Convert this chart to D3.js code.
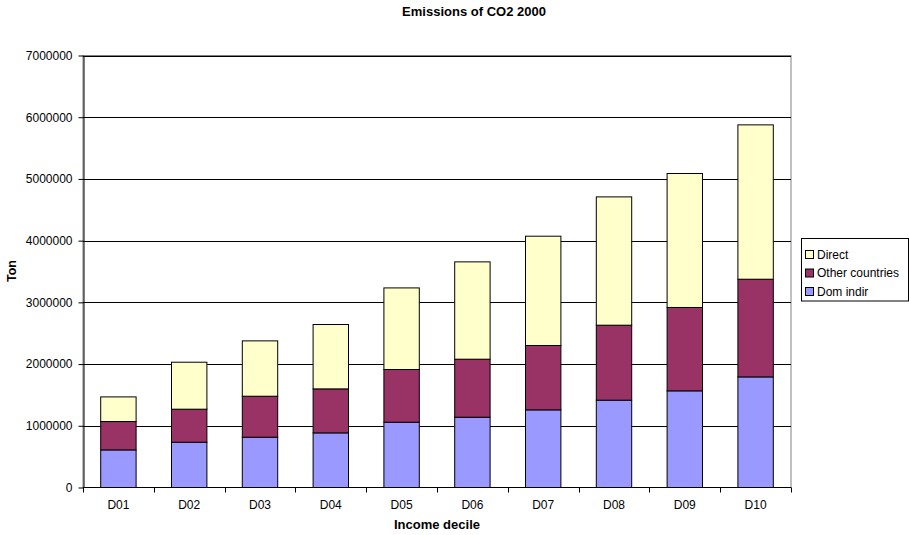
<!DOCTYPE html>
<html>
<head>
<meta charset="utf-8">
<script src="https://cdn.jsdelivr.net/npm/d3@7"></script>
<style>
  html, body { margin: 0; padding: 0; background: #fff; }
  svg { display: block; font-family: "Liberation Sans", Arial, sans-serif; }
</style>
</head>
<body>
<svg id="chart" width="909" height="535"></svg>
<script>
// Income deciles and CO2 emissions (tonnes) by source, year 2000
const deciles = ["D01", "D02", "D03", "D04", "D05", "D06", "D07", "D08", "D09", "D10"];
const domIndir = [609000, 734000, 815000, 885000, 1058000, 1139000, 1258000, 1415000, 1566000, 1792000];
const otherCountries = [460000, 535000, 664000, 713000, 854000, 940000, 1043000, 1215000, 1351000, 1583000];
const direct = [399000, 761000, 897000, 1043000, 1322000, 1577000, 1771000, 2079000, 2171000, 2501000];
const yTicks = [0, 1000000, 2000000, 3000000, 4000000, 5000000, 6000000, 7000000];

const seriesNames = ["Dom indir", "Other countries", "Direct"];
const seriesColors = { "Dom indir": "#9999FF", "Other countries": "#993366", "Direct": "#FFFFCC" };

const rows = deciles.map((d, i) => ({
  decile: d,
  "Dom indir": domIndir[i],
  "Other countries": otherCountries[i],
  "Direct": direct[i]
}));

const svg = d3.select("#chart");
const plot = { left: 83, top: 55.5, right: 791, bottom: 487.5 };

const x = d3.scaleBand().domain(deciles).range([plot.left, plot.right]).paddingInner(0.5).paddingOuter(0.25);
const xOuter = d3.scaleBand().domain(deciles).range([plot.left, plot.right]);
const y = d3.scaleLinear().domain([0, 7000000]).range([plot.bottom, plot.top]);

// Plot area frame (grey) and horizontal gridlines
svg.append("rect")
  .attr("x", plot.left).attr("y", plot.top)
  .attr("width", plot.right - plot.left).attr("height", plot.bottom - plot.top)
  .attr("fill", "#fff").attr("stroke", "#808080").attr("stroke-width", 1);

svg.append("g").selectAll("line")
  .data(yTicks.filter(t => t > 0))
  .join("line")
  .attr("x1", plot.left).attr("x2", plot.right)
  .attr("y1", d => Math.round(y(d)) + 0.5).attr("y2", d => Math.round(y(d)) + 0.5)
  .attr("stroke", "#000").attr("stroke-width", 1);

// Stacked bars
const stack = d3.stack().keys(seriesNames);
const layers = stack(rows);

svg.append("g").selectAll("g")
  .data(layers)
  .join("g")
  .attr("fill", d => seriesColors[d.key])
  .selectAll("rect")
  .data(d => d)
  .join("rect")
  .attr("x", d => x(d.data.decile))
  .attr("y", d => y(d[1]))
  .attr("width", x.bandwidth())
  .attr("height", d => y(d[0]) - y(d[1]))
  .attr("stroke", "#000").attr("stroke-width", 1);

// Y axis
const yAxis = d3.axisLeft(y).tickValues(yTicks).tickFormat(d3.format("d")).tickSize(5).tickSizeOuter(0);
const gy = svg.append("g").attr("transform", `translate(${plot.left + 0.5},0)`).call(yAxis);
gy.select(".domain").attr("stroke", "#000");
gy.selectAll(".tick line").attr("stroke", "#000");
gy.selectAll(".tick text").attr("font-size", 12).attr("fill", "#000").attr("x", -11)
  .attr("font-family", "'Liberation Sans', Arial, sans-serif");

// X axis with ticks at category boundaries
const gx = svg.append("g").attr("transform", `translate(0,${plot.bottom})`);
gx.append("line").attr("x1", plot.left).attr("x2", plot.right).attr("y1", 0).attr("y2", 0).attr("stroke", "#000");
const boundaries = deciles.map(d => xOuter(d)).concat([plot.right]);
gx.selectAll("line.tk").data(boundaries).join("line").attr("class", "tk")
  .attr("x1", d => Math.round(d) + 0.5).attr("x2", d => Math.round(d) + 0.5)
  .attr("y1", 0).attr("y2", 5).attr("stroke", "#000");
gx.selectAll("text").data(deciles).join("text")
  .attr("x", d => x(d) + x.bandwidth() / 2)
  .attr("y", 21.5)
  .attr("text-anchor", "middle")
  .attr("font-size", 12)
  .text(d => d);

// Titles
svg.append("text").attr("x", 474).attr("y", 15.5).attr("text-anchor", "middle")
  .attr("font-size", 13).attr("font-weight", "bold").text("Emissions of CO2 2000");
svg.append("text").attr("x", 437).attr("y", 529).attr("text-anchor", "middle")
  .attr("font-size", 13).attr("font-weight", "bold").text("Income decile");
svg.append("text").attr("transform", "translate(15.5,271) rotate(-90)").attr("text-anchor", "middle")
  .attr("font-size", 12.5).attr("font-weight", "bold").text("Ton");

// Legend
const legend = svg.append("g");
legend.append("rect").attr("x", 801.5).attr("y", 238.5).attr("width", 107).attr("height", 62.5)
  .attr("fill", "#fff").attr("stroke", "#000");
const legendOrder = ["Direct", "Other countries", "Dom indir"];
const li = legend.selectAll("g").data(legendOrder).join("g")
  .attr("transform", (d, i) => `translate(805,${250 + i * 18.5})`);
li.append("rect").attr("x", 0.5).attr("y", 0.5).attr("width", 8).attr("height", 8)
  .attr("fill", d => seriesColors[d]).attr("stroke", "#000");
li.append("text").attr("x", 12).attr("y", 8.8).attr("font-size", 12).text(d => d);
</script>
</body>
</html>
